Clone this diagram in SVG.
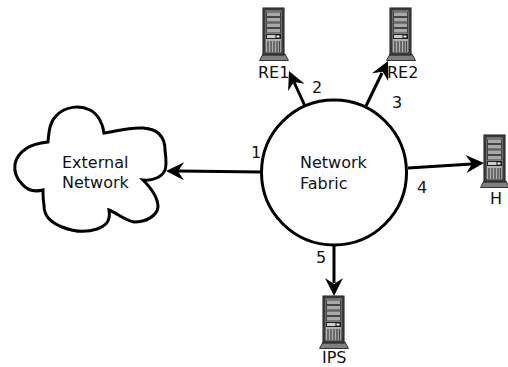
<svg xmlns="http://www.w3.org/2000/svg" xmlns:xlink="http://www.w3.org/1999/xlink" width="508" height="367" viewBox="0 0 508 367">
<style>
text{font-family:"DejaVu Sans",sans-serif;font-size:16px;fill:#111}
.c{fill:none;stroke:#000;stroke-width:3}
.o{fill:#fff;stroke:#000;stroke-width:3}
</style>
<defs>
<g id="srv">
<path d="M0.500 53.500L4 47H26L29.500 53.500Z" fill="#808080" stroke="#333" stroke-width="1"/>
<rect x="4" y="1" width="21" height="47" fill="#555" stroke="#111" stroke-width="1"/>
<rect x="6" y="3" width="17" height="43" fill="#b0b0b0" stroke="#222" stroke-width="1"/>
<g fill="#a8a8a8" stroke="#444" stroke-width="1">
<rect x="7.500" y="5" width="14" height="4.500"/><rect x="7.500" y="10.500" width="14" height="4.500"/><rect x="7.500" y="16" width="14" height="4.500"/><rect x="7.500" y="21.500" width="14" height="4.500"/>
</g>
<rect x="7.500" y="27.500" width="14" height="4" fill="#ccc" stroke="#222" stroke-width="1"/>
<rect x="17" y="28" width="4" height="3" fill="#fff" stroke="#111" stroke-width="1"/>
<path d="M9 34V45M12 34V45M15 34V45M18 34V45M20.500 34V45" stroke="#444" stroke-width="1.300" fill="none"/>
</g>
<path id="ah" d="M0 0L-18 -9L-12 0L-18 9Z" fill="#000"/>
</defs>
<g id="connectors">
<path class="c" d="M262 172L178 171"/><use xlink:href="#ah" transform="translate(166 171) rotate(180.700)"/>
<path class="c" d="M305 106L294 82"/><use xlink:href="#ah" transform="translate(289 71) rotate(246)"/>
<path class="c" d="M366 106L382 73"/><use xlink:href="#ah" transform="translate(388 61) rotate(296)"/>
<path class="c" d="M408 168L472 164"/><use xlink:href="#ah" transform="translate(484 163) rotate(-3.500)"/>
<path class="c" d="M334 245V283"/><use xlink:href="#ah" transform="translate(334 296) rotate(90)"/>
</g>
<g id="cloud">
<path class="o" d="M48 142C49 130 50 122 56 116C65 106 80 105 90 110C98 114 103 124 104 133C117 131 130 127 143 128C157 129 165 136 165 150C166 158 167 165 165 170C162 177 153 181 143 180C150 187 158 196 158 207C157 216 146 222 134 222C124 220 117 213 109 210C111 222 105 226 97 229C85 233 72 231 62 227C50 222 44 216 44 205C43 200 43 195 43 190C35 192 27 190 22 184C16 178 14 171 15 164C16 158 21 152 27 148C33 144 40 143 48 142Z"/>
<text x="62" y="168">External</text><text x="62" y="188">Network</text>
</g>
<g id="fabric">
<circle class="o" cx="334" cy="172.500" r="72.500"/>
<text x="300" y="168">Network</text><text x="300" y="189">Fabric</text>
</g>
<g id="re1"><use xlink:href="#srv" x="259" y="7"/><text x="258" y="78">RE1</text></g>
<g id="re2"><use xlink:href="#srv" x="386" y="7"/><text x="387" y="78">RE2</text></g>
<g id="h"><use xlink:href="#srv" x="480" y="134"/><text x="490" y="204">H</text></g>
<g id="ips"><use xlink:href="#srv" x="319" y="295"/><text x="322" y="363">IPS</text></g>
<g id="labels">
<text x="251" y="158">1</text><text x="312" y="93">2</text><text x="392" y="108">3</text><text x="417" y="193">4</text><text x="316" y="263">5</text>
</g>
</svg>
